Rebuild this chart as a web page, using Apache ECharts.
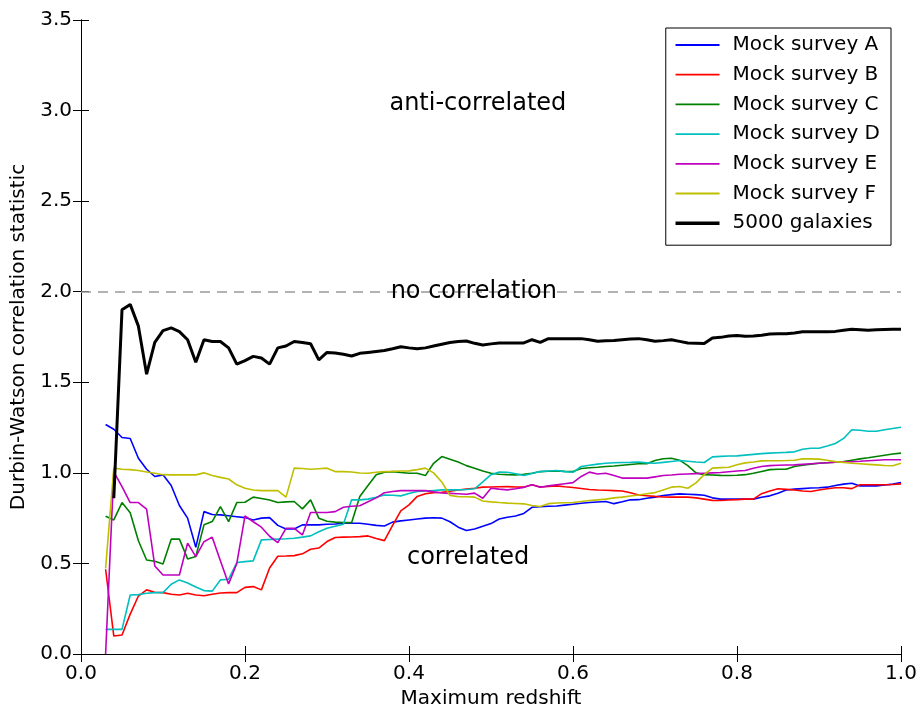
<!DOCTYPE html>
<html>
<head>
<meta charset="utf-8">
<script src="https://cdn.jsdelivr.net/npm/echarts@6/dist/echarts.min.js"></script>
<style>
  html, body { margin: 0; padding: 0; background: #fff; }
  #chart { width: 922px; height: 709px; }
</style>
</head>
<body>
<div id="chart"></div>
<script>
// Maximum redshift of each cumulative sample
const redshift = [
  0.03, 0.04, 0.05, 0.06, 0.07, 0.08, 0.09, 0.10, 0.11, 0.12,
  0.13, 0.14, 0.15, 0.16, 0.17, 0.18, 0.19, 0.20, 0.21, 0.22,
  0.23, 0.24, 0.25, 0.26, 0.27, 0.28, 0.29, 0.30, 0.31, 0.32,
  0.33, 0.34, 0.35, 0.36, 0.37, 0.38, 0.39, 0.40, 0.41, 0.42,
  0.43, 0.44, 0.45, 0.46, 0.47, 0.48, 0.49, 0.50, 0.51, 0.52,
  0.53, 0.54, 0.55, 0.56, 0.57, 0.58, 0.59, 0.60, 0.61, 0.62,
  0.63, 0.64, 0.65, 0.66, 0.67, 0.68, 0.69, 0.70, 0.71, 0.72,
  0.73, 0.74, 0.75, 0.76, 0.77, 0.78, 0.79, 0.80, 0.81, 0.82,
  0.83, 0.84, 0.85, 0.86, 0.87, 0.88, 0.89, 0.90, 0.91, 0.92,
  0.93, 0.94, 0.95, 0.96, 0.97, 0.98, 0.99, 1.00
];

// Durbin-Watson statistic per mock survey (one value per redshift above)
const surveyA = [
  1.267, 1.241, 1.195, 1.19, 1.081, 1.02, 0.98, 0.989, 0.93, 0.82,
  0.75, 0.589, 0.786, 0.77, 0.768, 0.763, 0.758, 0.753, 0.74, 0.75,
  0.753, 0.71, 0.69, 0.69, 0.713, 0.713, 0.713, 0.716, 0.718, 0.722,
  0.722, 0.722, 0.716, 0.71, 0.707, 0.728, 0.735, 0.74, 0.745, 0.75,
  0.752, 0.75, 0.73, 0.70, 0.682, 0.69, 0.705, 0.72, 0.745, 0.755,
  0.762, 0.776, 0.81, 0.813, 0.816, 0.817, 0.822, 0.827, 0.832, 0.836,
  0.839, 0.842, 0.83, 0.84, 0.851, 0.852, 0.86, 0.866, 0.875, 0.88,
  0.884, 0.882, 0.88, 0.876, 0.862, 0.855, 0.855, 0.855, 0.855, 0.855,
  0.865, 0.873, 0.888, 0.905, 0.91, 0.913, 0.916, 0.918, 0.921, 0.93,
  0.938, 0.943, 0.928, 0.928, 0.928, 0.933, 0.938, 0.946
];
const surveyB = [
  0.468, 0.099, 0.105, 0.22, 0.32, 0.354, 0.341, 0.339, 0.33, 0.326,
  0.335, 0.326, 0.322, 0.33, 0.337, 0.339, 0.339, 0.368, 0.372, 0.354,
  0.475, 0.54, 0.541, 0.543, 0.553, 0.578, 0.585, 0.621, 0.643, 0.645,
  0.646, 0.648, 0.652, 0.638, 0.626, 0.71, 0.79, 0.823, 0.87, 0.885,
  0.891, 0.893, 0.898, 0.905, 0.91, 0.915, 0.921, 0.922, 0.923, 0.924,
  0.922, 0.921, 0.934, 0.922, 0.925, 0.928, 0.923, 0.919, 0.914, 0.908,
  0.905, 0.904, 0.902, 0.90, 0.89, 0.878, 0.874, 0.87, 0.867, 0.866,
  0.866, 0.866, 0.862, 0.855, 0.848, 0.847, 0.85, 0.852, 0.855, 0.855,
  0.885, 0.90, 0.912, 0.909, 0.905, 0.90, 0.897, 0.905, 0.912, 0.918,
  0.918, 0.913, 0.934, 0.934, 0.934, 0.934, 0.936, 0.939
];
const surveyC = [
  0.76, 0.74, 0.836, 0.78, 0.625, 0.519, 0.512, 0.497, 0.634, 0.634,
  0.525, 0.538, 0.713, 0.731, 0.814, 0.731, 0.836, 0.838, 0.866, 0.858,
  0.85, 0.836, 0.84, 0.842, 0.801, 0.851, 0.75, 0.733, 0.728, 0.725,
  0.725, 0.87, 0.93, 0.99, 1.003, 1.007, 1.002, 0.998, 0.998, 0.985,
  1.053, 1.09, 1.075, 1.06, 1.04, 1.026, 1.01, 0.998, 0.992, 0.99,
  0.989, 0.992, 0.998, 1.007, 1.009, 1.01, 1.008, 1.007, 1.024, 1.028,
  1.031, 1.035, 1.038, 1.042, 1.046, 1.05, 1.05, 1.068, 1.078, 1.081,
  1.07, 1.04, 1.0, 0.99, 0.988, 0.986, 0.985, 0.987, 0.99, 0.998,
  1.008, 1.018, 1.02, 1.02, 1.035, 1.042, 1.048, 1.053, 1.056, 1.059,
  1.062, 1.07, 1.077, 1.083, 1.09, 1.097, 1.104, 1.109
];
const surveyD = [
  0.136, 0.136, 0.136, 0.326, 0.328, 0.335, 0.339, 0.339, 0.385, 0.409,
  0.392, 0.37, 0.35, 0.347, 0.409, 0.413, 0.505, 0.51, 0.514, 0.63,
  0.632, 0.634, 0.636, 0.639, 0.645, 0.652, 0.675, 0.694, 0.705, 0.716,
  0.851, 0.851, 0.855, 0.865, 0.878, 0.876, 0.873, 0.886, 0.897, 0.90,
  0.903, 0.906, 0.906, 0.906, 0.908, 0.912, 0.95, 0.99, 1.004, 1.003,
  0.995, 0.985, 0.996, 1.007, 1.01, 1.013, 1.007, 1.003, 1.035, 1.042,
  1.048, 1.053, 1.056, 1.057, 1.058, 1.06, 1.055, 1.053, 1.058, 1.063,
  1.068, 1.064, 1.06, 1.057, 1.088, 1.091, 1.093, 1.094, 1.098, 1.102,
  1.106, 1.109, 1.111, 1.113, 1.116, 1.13, 1.136, 1.136, 1.148, 1.162,
  1.19, 1.238, 1.235, 1.23, 1.23, 1.238, 1.245, 1.252
];
const surveyE = [
  0.0, 1.005, 0.924, 0.836, 0.836, 0.80, 0.486, 0.436, 0.436, 0.436,
  0.612, 0.538, 0.62, 0.645, 0.515, 0.387, 0.50, 0.762, 0.73, 0.70,
  0.65, 0.615, 0.694, 0.694, 0.657, 0.781, 0.781, 0.781, 0.786, 0.81,
  0.816, 0.818, 0.84, 0.862, 0.89, 0.897, 0.902, 0.902, 0.902, 0.902,
  0.895, 0.889, 0.887, 0.885, 0.882, 0.888, 0.86, 0.915, 0.91, 0.906,
  0.912, 0.92, 0.934, 0.921, 0.928, 0.934, 0.94, 0.946, 0.98, 1.004,
  0.994, 0.998, 0.985, 0.971, 0.971, 0.971, 0.971, 0.978, 0.985, 0.988,
  0.992, 0.994, 0.996, 0.998, 1.0, 1.002, 1.006, 1.01, 1.013, 1.025,
  1.035, 1.04, 1.042, 1.043, 1.044, 1.047, 1.05, 1.053, 1.056, 1.059,
  1.061, 1.062, 1.064, 1.067, 1.07, 1.072, 1.072, 1.072
];
const surveyF = [
  0.473, 1.026, 1.02, 1.018, 1.013, 1.005, 0.998, 0.99, 0.989, 0.989,
  0.989, 0.989, 1.0, 0.985, 0.975, 0.966, 0.934, 0.915, 0.905, 0.902,
  0.902, 0.902, 0.866, 1.026, 1.024, 1.02, 1.023, 1.026, 1.007, 1.007,
  1.005, 0.999, 0.998, 1.003, 1.007, 1.008, 1.01, 1.011, 1.018, 1.026,
  1.0, 0.95, 0.875, 0.869, 0.868, 0.866, 0.845, 0.84, 0.836, 0.833,
  0.831, 0.829, 0.82, 0.814, 0.83, 0.834, 0.835, 0.836, 0.842, 0.847,
  0.851, 0.855, 0.862, 0.866, 0.872, 0.878, 0.885, 0.891, 0.906, 0.921,
  0.925, 0.915, 0.945, 0.99, 1.026, 1.029, 1.031, 1.045, 1.055, 1.06,
  1.066, 1.067, 1.067, 1.068, 1.07, 1.077, 1.077, 1.076, 1.07, 1.062,
  1.058, 1.053, 1.05, 1.047, 1.044, 1.041, 1.039, 1.053
];
// 5000-galaxy sample, starting at the second redshift (0.04)
const galaxies5000 = [
  0.86, 1.90, 1.93, 1.81, 1.545, 1.72, 1.785, 1.80, 1.78,
  1.735, 1.61, 1.735, 1.725, 1.725, 1.69, 1.60, 1.62, 1.643, 1.634,
  1.60, 1.69, 1.70, 1.725, 1.72, 1.713, 1.624, 1.665, 1.662, 1.655,
  1.645, 1.66, 1.665, 1.67, 1.675, 1.685, 1.696, 1.69, 1.685, 1.69,
  1.70, 1.71, 1.72, 1.725, 1.728, 1.715, 1.706, 1.712, 1.717, 1.717,
  1.717, 1.717, 1.735, 1.72, 1.741, 1.741, 1.741, 1.741, 1.741, 1.735,
  1.727, 1.729, 1.731, 1.735, 1.739, 1.741, 1.735, 1.727, 1.73, 1.735,
  1.726, 1.717, 1.716, 1.714, 1.745, 1.748, 1.755, 1.758, 1.754, 1.755,
  1.76, 1.767, 1.768, 1.768, 1.772, 1.779, 1.779, 1.779, 1.779, 1.781,
  1.787, 1.793, 1.79, 1.787, 1.79, 1.792, 1.793, 1.793
];

const seriesNames = ['Mock survey A', 'Mock survey B', 'Mock survey C',
  'Mock survey D', 'Mock survey E', 'Mock survey F', '5000 galaxies'];
const seriesColors = ['#0000ff', '#ff0000', '#008000', '#00bfbf', '#bf00bf', '#bfbf00', '#000000'];
const yTicks = [0, 0.5, 1, 1.5, 2, 2.5, 3, 3.5];

// Region annotations: [text, redshift, statistic]
const regionLabels = [
  ['anti-correlated', 0.484, 3.04],
  ['no correlation', 0.479, 2.0],
  ['correlated', 0.472, 0.53]
];

const FONT = 'DejaVu Sans';
const pair = (xs, ys) => ys.map((v, i) => [xs[i], v]);

const mockData = [surveyA, surveyB, surveyC, surveyD, surveyE, surveyF];
const series = mockData.map((vals, k) => ({
  name: seriesNames[k],
  type: 'line',
  data: pair(redshift, vals),
  symbol: 'none',
  lineStyle: { width: 1.6, color: seriesColors[k] },
  itemStyle: { color: seriesColors[k] },
  animation: false,
  z: 2
}));
series.push({
  name: seriesNames[6],
  type: 'line',
  data: pair(redshift.slice(1), galaxies5000),
  symbol: 'none',
  lineStyle: { width: 3, color: '#000' },
  itemStyle: { color: '#000' },
  animation: false,
  z: 3,
  markLine: {
    silent: true,
    symbol: 'none',
    label: { show: false },
    lineStyle: { color: '#999', type: [10, 7], width: 1.5 },
    data: [{ yAxis: 2 }],
    animation: false
  },
  markPoint: {
    silent: true,
    symbol: 'circle',
    symbolSize: 0,
    animation: false,
    label: {
      show: true,
      position: 'inside',
      fontFamily: FONT,
      fontSize: 24,
      color: '#000',
      formatter: p => p.name
    },
    data: regionLabels.map(r => ({ name: r[0], coord: [r[1], r[2]] }))
  }
});

// Legend entries: thin lines for the mocks, a heavy line for the full sample
const legendData = seriesNames.map((name, k) => ({
  name: name,
  lineStyle: { width: k === 6 ? 3.5 : 1.8, color: seriesColors[k] }
}));

const chart = echarts.init(document.getElementById('chart'), null, { renderer: 'canvas' });
const sideAxis = {
  min: 0, axisLine: { show: true, lineStyle: { color: '#000', width: 1 } },
  axisTick: { show: true, inside: true, length: 8, lineStyle: { color: '#000' } },
  axisLabel: { show: false }, splitLine: { show: false }
};
chart.setOption({
  backgroundColor: '#fff',
  animation: false,
  grid: { left: 81, right: 21, top: 20, bottom: 55, containLabel: false, outerBoundsMode: 'none' },
  legend: {
    data: legendData,
    orient: 'vertical',
    right: 31,
    top: 28,
    padding: [6, 11, 11, 8],
    itemWidth: 44,
    itemHeight: 14,
    itemGap: 7.7,
    borderColor: '#000',
    borderWidth: 1,
    backgroundColor: '#fff',
    itemStyle: { opacity: 0 },
    textStyle: { fontFamily: FONT, fontSize: 20, color: '#000', lineHeight: 22, padding: [0, 0, 0, 8] }
  },
  xAxis: [
    {
      type: 'value', min: 0, max: 1, interval: 0.2,
      name: 'Maximum redshift', nameLocation: 'middle', nameGap: 25,
      nameTextStyle: { fontFamily: FONT, fontSize: 20, color: '#000' },
      axisLine: { show: true, lineStyle: { color: '#000', width: 1 } },
      axisTick: { show: true, inside: true, length: 8, lineStyle: { color: '#000' } },
      axisLabel: { fontFamily: FONT, fontSize: 20, color: '#000', margin: 10, formatter: v => v.toFixed(1) },
      splitLine: { show: false }
    },
    Object.assign({ type: 'value', position: 'top', max: 1, interval: 0.2 }, sideAxis)
  ],
  yAxis: [
    {
      type: 'value', min: yTicks[0], max: yTicks[yTicks.length - 1], interval: 0.5,
      name: 'Durbin-Watson correlation statistic', nameLocation: 'middle', nameGap: 46,
      nameTextStyle: { fontFamily: FONT, fontSize: 20, color: '#000' },
      axisLine: { show: true, lineStyle: { color: '#000', width: 1 } },
      axisTick: { show: true, inside: true, length: 8, lineStyle: { color: '#000' } },
      axisLabel: { fontFamily: FONT, fontSize: 20, color: '#000', margin: 9, formatter: v => v.toFixed(1) },
      splitLine: { show: false }
    },
    Object.assign({ type: 'value', position: 'right', max: 3.5, interval: 0.5 }, sideAxis)
  ],
  series: series
});
</script>
</body>
</html>
